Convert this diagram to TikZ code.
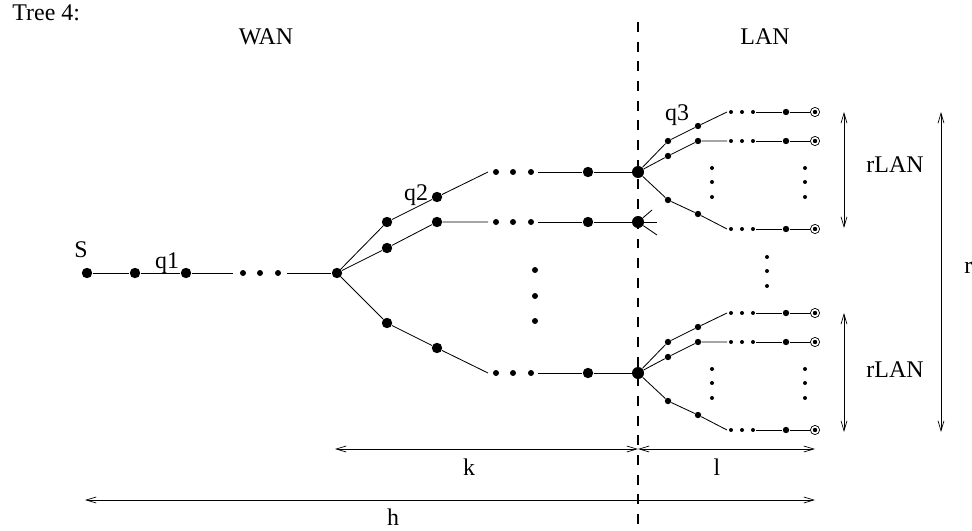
\documentclass[tikz,border=0pt]{standalone}
\usepackage{fontspec}
\setmainfont{Liberation Serif}
\usetikzlibrary{arrows.meta}
\begin{document}
\begin{tikzpicture}[
			x=0.025cm, y=-0.025cm,
			line width=0.6pt,
			lbl/.style={font=\fontsize{17}{20}\selectfont, inner sep=0pt, anchor=base},
			bigdot/.style={circle, fill, inner sep=0pt, minimum size=3mm},
			wdot/.style={circle, fill, inner sep=0pt, minimum size=2.6mm},
			ldot/.style={circle, fill, inner sep=0pt, minimum size=1.6mm},
			edot/.style={circle, fill, inner sep=0pt, minimum size=1.5mm},
			sdot/.style={circle, fill, inner sep=0pt, minimum size=1mm},
			leaf/.style={circle, draw, line width=0.5pt, inner sep=0pt, minimum size=2.3mm,
				path picture={\fill (path picture bounding box.center) circle (0.55mm);}},
			dim/.style={line width=0.5pt, {Straight Barb[length=2.5mm,width=1.5mm]}-{Straight Barb[length=2.5mm,width=1.5mm]}},
			border/.style={line width=1.8pt, dash pattern=on 7pt off 7pt}
		]
		\useasboundingbox (0,0) rectangle (972,531);

		% Titoli
		\node[lbl, anchor=base west] (title) at (12,21) {Tree 4:};
		\node[lbl] (wan) at (266,45) {WAN};
		\node[lbl] (lan) at (765,45) {LAN};

		% Confine WAN/LAN
		\coordinate (bt) at (638,22);
		\coordinate (bb) at (638,531);
		\draw[border] (bt) -- (bb);

		% Catena WAN
		\node[wdot] (s) at (87,273) {};
		\node[wdot] (a1) at (135,273) {};
		\node[wdot] (a2) at (186,273) {};
		\coordinate (a3) at (233,273);
		\coordinate (a4) at (287,273);
		\node[wdot] (r0) at (337,273) {};
		\foreach \x in {243,260,278} \node[edot] (ea\x) at (\x,273) {};
		\draw (s) -- (a1) -- (a2) -- (a3);
		\draw (a4) -- (r0);
		\node[lbl] (ls) at (81,257) {S};
		\node[lbl] (lq1) at (167,268) {q1};

		% Rami WAN
		\foreach \b/\ya/\yb/\yc in {b/222/197/172, c/248/222/222, d/323/348/373} {
			\node[wdot] (\b1) at (387,\ya) {};
			\node[wdot] (\b2) at (437,\yb) {};
			\coordinate (\b3) at (488,\yc);
			\foreach \x in {496,513,531} \node[edot] (e\b\x) at (\x,\yc) {};
			\coordinate (\b4) at (538,\yc);
			\node[wdot] (\b5) at (588,\yc) {};
			\node[bigdot] (j\b) at (638,\yc) {};
			\draw (r0) -- (\b1) -- (\b2) -- (\b3);
			\draw (\b4) -- (\b5) -- (j\b);
		}
		\foreach \y in {270,296,321} \node[edot] (m\y) at (535,\y) {};
		\node[lbl] (lq2) at (416,200) {q2};

		% Ramo troncato
		\coordinate (t1) at (652,210);
		\coordinate (t2) at (657,222);
		\coordinate (t3) at (657,235);
		\draw (jc) -- (t1);
		\draw (jc) -- (t2);
		\draw (jc) -- (t3);

		% Sottoalberi LAN
		\foreach \t/\Y in {b/172, d/373} {
			\foreach \r/\ya/\yb/\yc in {1/-31/-46/-60, 2/-16/-31/-31, 3/+28/+42/+57} {
				\node[ldot] (l\t\r a) at (668,\Y\ya) {};
				\node[ldot] (l\t\r b) at (698,\Y\yb) {};
				\coordinate (l\t\r c) at (727,\Y\yc);
				\foreach \x in {731,742,753} \node[sdot] (e\t\r\x) at (\x,\Y\yc) {};
				\coordinate (l\t\r d) at (756,\Y\yc);
				\node[ldot] (l\t\r e) at (786,\Y\yc) {};
				\node[leaf] (l\t\r f) at (815,\Y\yc) {};
				\draw (j\t) -- (l\t\r a) -- (l\t\r b) -- (l\t\r c);
				\draw (l\t\r d) -- (l\t\r e) -- (l\t\r f);
			}
			\foreach \yy/\i in {-4/1,+10/2,+25/3} {
				\node[sdot] (vl\t\i) at (712,\Y\yy) {};
				\node[sdot] (vr\t\i) at (805,\Y\yy) {};
			}
		}
		\foreach \y in {257,271,286} \node[sdot] (ml\y) at (767,\y) {};
		\node[lbl] (lq3) at (677,121) {q3};

		% Quote
		\coordinate (rt1) at (844,112);
		\coordinate (rb1) at (844,228);
		\coordinate (rt2) at (844,313);
		\coordinate (rb2) at (844,432);
		\coordinate (rt) at (941,112);
		\coordinate (rb) at (941,432);
		\coordinate (kl) at (335,449);
		\coordinate (kr) at (638,449);
		\coordinate (lr) at (815,449);
		\coordinate (hl) at (85,500);
		\coordinate (hr) at (815,500);
		\draw[dim] (rt1) -- (rb1);
		\draw[dim] (rt2) -- (rb2);
		\draw[dim] (rt) -- (rb);
		\draw[dim] (kl) -- (kr);
		\draw[dim] (kr) -- (lr);
		\draw[dim] (hl) -- (hr);
		\node[lbl] (lr1) at (895,173) {rLAN};
		\node[lbl] (lr2) at (895,377) {rLAN};
		\node[lbl, anchor=base west] (lrr) at (964,273) {r};
		\node[lbl] (lk) at (469,475) {k};
		\node[lbl] (ll) at (717,475) {l};
		\node[lbl] (lh) at (393,525) {h};
	\end{tikzpicture}
\end{document}
